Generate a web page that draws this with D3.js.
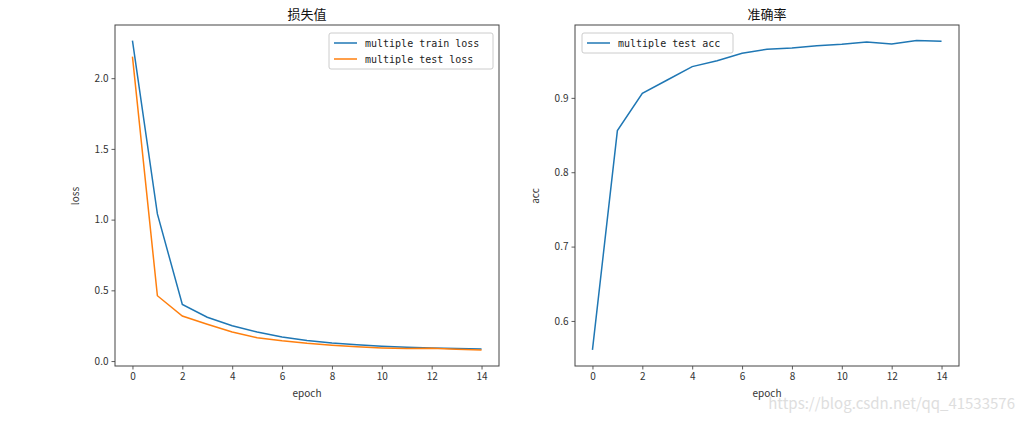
<!DOCTYPE html>
<meta charset="utf-8">
<head>
  <title>loss / acc</title>
</head>

<style>
body {
  margin: 0;
  background: #fff;
}
svg text {
  font-family: "Noto Sans CJK SC", "DejaVu Sans", sans-serif;
}
.tick text {
  font-size: 10px;
  fill: #333;
}
.mono {
  font-family: "DejaVu Sans Mono", monospace !important;
}
</style>

<body>
  <svg width="1025" height="421"></svg>

  <script src="https://cdnjs.cloudflare.com/ajax/libs/d3/7.8.5/d3.min.js"></script>

  <script>
// epochs 0..14
var epochs = [0, 1, 2, 3, 4, 5, 6, 7, 8, 9, 10, 11, 12, 13, 14];

var trainLoss = [2.265, 1.04, 0.40, 0.31, 0.25, 0.205, 0.17, 0.145, 0.128, 0.115, 0.105, 0.098, 0.093, 0.088, 0.085];
var testLoss  = [2.152, 0.462, 0.318, 0.26, 0.205, 0.165, 0.143, 0.125, 0.112, 0.101, 0.093, 0.088, 0.09, 0.083, 0.079];
var testAcc   = [0.561, 0.856, 0.906, 0.924, 0.942, 0.950, 0.960, 0.9655, 0.967, 0.970, 0.972, 0.975, 0.9725, 0.977, 0.976];

var xTicks = [0, 2, 4, 6, 8, 10, 12, 14];
var lossTicks = [0.0, 0.5, 1.0, 1.5, 2.0];
var accTicks = [0.6, 0.7, 0.8, 0.9];

var blue = '#1f77b4', orange = '#ff7f0e';

var svg = d3.select('svg');

function panel(opts) {
  var x = d3.scaleLinear().domain([-0.7, 14.7]).range([opts.left, opts.left + 384]);
  var y = d3.scaleLinear().domain(opts.ydomain).range([366, 25]);
  var g = svg.append('g');

  g.append('g')
    .attr('transform', 'translate(0,366)')
    .call(d3.axisBottom(x).tickValues(xTicks).tickSize(3.5).tickPadding(3).tickFormat(d3.format('d')))
    .call(function(a) { a.select('.domain').remove(); });

  g.append('g')
    .attr('transform', 'translate(' + opts.left + ',0)')
    .call(d3.axisLeft(y).tickValues(opts.yticks).tickSize(3.5).tickPadding(3).tickFormat(d3.format('.1f')))
    .call(function(a) { a.select('.domain').remove(); });

  g.selectAll('.tick line').attr('stroke', '#333').attr('stroke-width', 0.8);

  var line = d3.line()
    .x(function(d, i) { return x(epochs[i]); })
    .y(function(d) { return y(d); });

  opts.series.forEach(function(s) {
    g.append('path')
      .datum(s.values)
      .attr('fill', 'none')
      .attr('stroke', s.color)
      .attr('stroke-width', 1.5)
      .attr('d', line);
  });

  // frame
  g.append('rect')
    .attr('x', opts.left).attr('y', 25)
    .attr('width', 384).attr('height', 341)
    .attr('fill', 'none').attr('stroke', '#444').attr('stroke-width', 1);

  g.append('text')
    .attr('x', opts.left + 192).attr('y', 19)
    .attr('text-anchor', 'middle')
    .attr('font-size', 13).attr('fill', '#111')
    .text(opts.title);

  g.append('text')
    .attr('x', opts.left + 192).attr('y', 397)
    .attr('text-anchor', 'middle')
    .attr('font-size', 10).attr('fill', '#333')
    .text('epoch');

  g.append('text')
    .attr('transform', 'translate(' + (opts.left - 36) + ',196) rotate(-90)')
    .attr('text-anchor', 'middle')
    .attr('font-size', 10).attr('fill', '#333')
    .text(opts.ylabel);

  // legend
  var lg = g.append('g');
  lg.append('rect')
    .attr('x', opts.legend.x).attr('y', 33)
    .attr('width', opts.legend.w).attr('height', opts.series.length * 16 + 4)
    .attr('rx', 2)
    .attr('fill', '#fff').attr('stroke', '#ccc');
  opts.series.forEach(function(s, i) {
    var ly = 43 + i * 16;
    lg.append('line')
      .attr('x1', opts.legend.x + 5).attr('x2', opts.legend.x + 28)
      .attr('y1', ly).attr('y2', ly)
      .attr('stroke', s.color).attr('stroke-width', 1.5);
    lg.append('text')
      .attr('class', 'mono')
      .attr('x', opts.legend.x + 36).attr('y', ly + 3.5)
      .attr('font-size', 10).attr('fill', '#222')
      .text(s.name);
  });
}

panel({
  left: 115,
  ydomain: [-0.035, 2.376],
  yticks: lossTicks,
  title: '损失值',
  ylabel: 'loss',
  legend: {x: 329, w: 164},
  series: [
    {name: 'multiple train loss', values: trainLoss, color: blue},
    {name: 'multiple test loss', values: testLoss, color: orange}
  ]
});

panel({
  left: 575,
  ydomain: [0.5394, 0.998],
  yticks: accTicks,
  title: '准确率',
  ylabel: 'acc',
  legend: {x: 582, w: 151},
  series: [
    {name: 'multiple test acc', values: testAcc, color: blue}
  ]
});

// watermark
svg.append('text')
  .attr('x', 1015).attr('y', 409)
  .attr('text-anchor', 'end')
  .attr('font-family', 'Liberation Sans, Arial, sans-serif')
  .attr('font-size', 15)
  .attr('fill', '#dedede')
  .text('https://blog.csdn.net/qq_41533576');
  </script>
</body>
</html>
